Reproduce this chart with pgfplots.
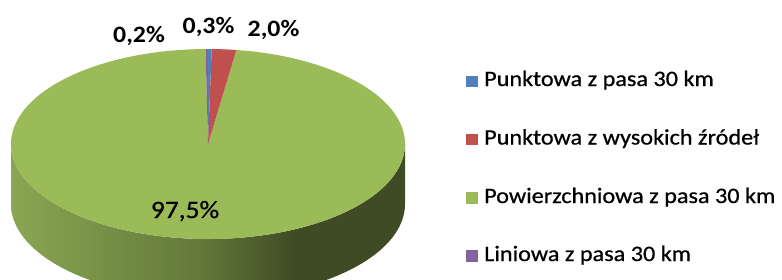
\documentclass[border=0pt]{standalone}
\usepackage{pgfplots}
\usepackage{pgfplotstable}
\pgfplotsset{compat=1.18}
\usepackage{fontspec}
\setmainfont{Carlito}[FakeStretch=1.1]
\newfontfamily\legfont{Carlito}[FakeStretch=1.1,FakeBold=0.7]
\definecolor{cblue}{HTML}{4F81BD}
\definecolor{cred}{HTML}{C0504D}
\definecolor{cgreen}{HTML}{9BBB59}
\definecolor{cpurple}{HTML}{8064A2}
\definecolor{sideL}{HTML}{8AA652}
\definecolor{sideM}{HTML}{63793A}
\definecolor{sideD}{HTML}{3F4B24}
\pgfdeclarehorizontalshading{pieside}{100bp}{color(0bp)=(sideL); color(25bp)=(sideL); color(49bp)=(sideM); color(61bp)=(sideD); color(75bp)=(sideD); color(100bp)=(sideD)}
% shares in percent
\pgfplotstableread{
name value
A 0.3
B 2.0
C 97.5
D 0.2
}\piedata
\pgfplotstablegetelem{0}{value}\of\piedata \let\vA\pgfplotsretval
\pgfplotstablegetelem{1}{value}\of\piedata \let\vB\pgfplotsretval
\pgfplotstablegetelem{2}{value}\of\piedata \let\vC\pgfplotsretval
\pgfplotstablegetelem{3}{value}\of\piedata \let\vD\pgfplotsretval
\pgfmathsetmacro\sA{90}
\pgfmathsetmacro\sB{\sA-3.6*\vA}
\pgfmathsetmacro\sC{\sB-3.6*\vB}
\pgfmathsetmacro\sD{\sC-3.6*\vC}
\pgfmathsetmacro\sE{\sD-3.6*\vD}
\def\cx{208}\def\cy{144}
\def\rx{197bp}\def\ry{95bp}
\newcommand\slice[3]{\fill[#3] (axis cs:\cx,\cy) -- ++(#1:\rx\space and \ry) arc[start angle=#1,end angle=#2,x radius=\rx,y radius=\ry] -- cycle;}
\begin{document}
\begin{tikzpicture}
\begin{axis}[width=782bp,height=280bp,scale only axis,
  xmin=0,xmax=782,ymin=0,ymax=280,y dir=reverse,
  axis lines=none,clip=true]
\coordinate (sw) at (axis cs:0,280);
\coordinate (ne) at (axis cs:782,0);
\shade[shading=pieside] (axis cs:\cx,\cy) ++(180:\rx\space and \ry)
  arc[start angle=180,end angle=360,x radius=\rx,y radius=\ry]
  -- ++(0,-60bp)
  arc[start angle=360,end angle=180,x radius=\rx,y radius=\ry] -- cycle;
\slice{\sC}{\sD}{cgreen}
\slice{\sA}{\sB}{cblue}
\slice{\sB}{\sC}{cred}
\slice{\sD}{\sE}{cpurple}
\begin{scope}[every node/.style={inner sep=0pt,anchor=base}]
\node[font=\fontsize{23.5bp}{28bp}\selectfont\bfseries] at (axis cs:139,42) {0,2\%};
\node[font=\fontsize{23.5bp}{28bp}\selectfont\bfseries] at (axis cs:208.5,33) {0,3\%};
\node[font=\fontsize{23.5bp}{28bp}\selectfont\bfseries] at (axis cs:273.5,36) {2,0\%};
\node[font=\fontsize{25bp}{30bp}\legfont] at (axis cs:185,218) {97,5\%};
\end{scope}
\begin{scope}[every node/.style={inner sep=0pt,anchor=base west,font=\fontsize{22bp}{26bp}\legfont}]
\fill[cblue] (axis cs:466,75.5) rectangle (axis cs:477.5,87);
\node at (axis cs:484,86) {Punktowa z pasa 30 km};
\fill[cred] (axis cs:466,133.5) rectangle (axis cs:477.5,145);
\node at (axis cs:484,144.5) {Punktowa z wysokich źródeł};
\fill[cgreen] (axis cs:466,192) rectangle (axis cs:477.5,203.5);
\node at (axis cs:484,203) {Powierzchniowa z pasa 30 km};
\fill[cpurple] (axis cs:466,250) rectangle (axis cs:477.5,261.5);
\node at (axis cs:484,261) {Liniowa z pasa 30 km};
\end{scope}
\end{axis}
\pgfresetboundingbox
\useasboundingbox (sw) rectangle (ne);
\end{tikzpicture}
\end{document}
